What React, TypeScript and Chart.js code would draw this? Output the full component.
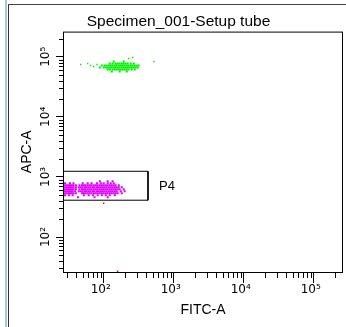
import React, { useEffect, useRef } from 'react';
import { Chart, registerables } from 'chart.js';

Chart.register(...registerables);

const FONT = "'Liberation Sans', Arial, sans-serif";
const TICK_FONT = "'DejaVu Sans', sans-serif";

const chartTitle = 'Specimen_001-Setup tube';
const xAxisTitle = 'FITC-A';
const yAxisTitle = 'APC-A';

const axisMin = 26.2;
const axisMax = 262144;
const decadeTicks = [100, 1000, 10000, 100000];
const decadeLabels = ['10²', '10³', '10⁴', '10⁵'];
const minorMultipliers = [2, 3, 4, 5, 6, 7, 8, 9];
const minorDecades = [10, 100, 1000, 10000, 100000];

const gateName = 'P4';
const gateFitc = [axisMin, 429];
const gateApc = [410, 1242];

// APC-bright population (green): FITC values per APC level
const greenApcLevels = [83200, 77100, 71400, 66100, 61300, 56800];
const greenFitcRows = [
  [139, 193],
  [122, 134, 148, 158, 169, 181, 193, 206, 220, 243, 268],
  [94, 103, 110, 118, 126, 134, 144, 153, 164, 175, 187, 199, 213, 227, 243, 259, 277, 296, 316],
  [88, 100, 107, 114, 122, 130, 139, 148, 158, 169, 181, 193, 206, 220, 235, 251, 268, 286, 306],
  [114, 122, 134, 144, 153, 164, 175, 187, 199, 213, 227, 251, 277],
  [130, 169, 213],
];
const greenOutlierFitc = [47, 59, 65, 72, 80, 227, 259, 523];
const greenOutlierApc = [74200, 77100, 71400, 68700, 74200, 93300, 97000, 83200];

// APC-dim population (magenta, gate P4): FITC values per APC level
const magentaApcLevels = [848, 785, 728, 674, 625, 579, 536, 497, 460];
const magentaFitcRows = [
  [88, 114, 134],
  [28, 33, 37, 50, 59, 67, 80, 91, 100, 114, 126, 139],
  [27, 29, 31, 33, 35, 37, 40, 45, 49, 52, 55, 59, 63, 67, 72, 77, 82, 88, 94, 100, 107, 114, 122, 130, 139, 148, 164],
  [27, 29, 31, 33, 35, 37, 40, 44, 47, 50, 54, 57, 61, 65, 70, 74, 80, 85, 91, 97, 103, 110, 118, 126, 134, 144, 153, 164, 181],
  [27, 29, 31, 33, 35, 37, 40, 45, 49, 52, 55, 59, 63, 67, 72, 77, 82, 88, 94, 100, 107, 114, 122, 130, 139, 148, 158, 169, 193],
  [28, 30, 32, 34, 36, 39, 44, 47, 50, 54, 57, 61, 65, 70, 74, 80, 85, 91, 97, 103, 110, 118, 126, 134, 144, 153, 175, 199],
  [27, 29, 31, 33, 35, 37, 40, 49, 52, 55, 59, 63, 67, 72, 77, 82, 88, 94, 100, 107, 114, 122, 130, 139, 148, 158, 181],
  [28, 32, 36, 52, 61, 70, 82, 94, 107, 122, 144],
  [43, 74, 114],
];

// Ungated events (red)
const redFitc = [100, 158];
const redApc = [366, 27];

const rowsToPoints = (levels: number[], rows: number[][]) =>
  rows.flatMap((row, i) => row.map((x) => ({ x, y: levels[i] })));
const pairsToPoints = (xs: number[], ys: number[]) => xs.map((x, i) => ({ x, y: ys[i] }));

const axisDecor = {
  id: 'axisDecor',
  afterDraw(chart: any) {
    const { ctx, chartArea: a } = chart;
    const xs = chart.scales.x;
    const ys = chart.scales.y;
    ctx.save();
    ctx.strokeStyle = '#000';
    ctx.lineWidth = 1;
    ctx.strokeRect(a.left + 0.5, a.top + 0.5, a.right - a.left - 1, a.bottom - a.top);
    ctx.beginPath();
    for (const d of minorDecades) {
      for (const m of minorMultipliers) {
        const v = d * m;
        if (v <= axisMin || v >= axisMax) continue;
        const px = Math.round(xs.getPixelForValue(v)) + 0.5;
        ctx.moveTo(px, a.bottom);
        ctx.lineTo(px, a.bottom + 6);
        const py = Math.round(ys.getPixelForValue(v)) + 0.5;
        ctx.moveTo(a.left - 4, py);
        ctx.lineTo(a.left, py);
      }
    }
    ctx.stroke();
    // gate name
    const gx = xs.getPixelForValue(gateFitc[1]) + 11;
    const gy = (ys.getPixelForValue(gateApc[0]) + ys.getPixelForValue(gateApc[1])) / 2 + 1;
    ctx.fillStyle = '#000';
    ctx.font = `13px ${FONT}`;
    ctx.textAlign = 'left';
    ctx.textBaseline = 'middle';
    ctx.fillText(gateName, gx, gy);
    ctx.restore();
  },
};

const labelFor = (v: number) => {
  const i = decadeTicks.indexOf(v);
  return i >= 0 ? decadeLabels[i] : '';
};

export default function App() {
  const ref = useRef<HTMLCanvasElement>(null);
  useEffect(() => {
    const pointStyle = { pointStyle: 'rect', pointRadius: 1.45, pointBorderWidth: 0, pointHoverRadius: 0 };
    const chart = new Chart(ref.current as HTMLCanvasElement, {
      type: 'scatter',
      data: {
        datasets: [
          { label: 'P4', data: rowsToPoints(magentaApcLevels, magentaFitcRows), pointBackgroundColor: '#dd00ff', ...pointStyle } as any,
          { label: 'APC+', data: rowsToPoints(greenApcLevels, greenFitcRows), pointBackgroundColor: '#00ee00', ...pointStyle } as any,
          { label: 'APC+ sparse', data: pairsToPoints(greenOutlierFitc, greenOutlierApc), pointBackgroundColor: '#00ee00', ...pointStyle, pointRadius: 1 } as any,
          { label: 'other', data: pairsToPoints(redFitc, redApc), pointBackgroundColor: '#ff0000', ...pointStyle, pointRadius: 1 } as any,
          {
            label: 'gate',
            data: [
              { x: gateFitc[0], y: gateApc[1] },
              { x: gateFitc[1], y: gateApc[1] },
              { x: gateFitc[1], y: gateApc[0] },
              { x: gateFitc[0], y: gateApc[0] },
              { x: gateFitc[0], y: gateApc[1] },
            ],
            showLine: true,
            borderColor: '#000',
            borderWidth: 1,
            pointRadius: 0,
            fill: false,
          } as any,
        ],
      },
      options: {
        responsive: false,
        animation: false,
        devicePixelRatio: 1,
        events: [],
        layout: { padding: { left: 14, right: 3, top: 0, bottom: 0 } },
        plugins: {
          legend: { display: false },
          tooltip: { enabled: false },
          title: {
            display: true,
            text: chartTitle,
            color: '#000',
            font: { size: 15.5, weight: 'normal', family: FONT },
            padding: { top: 12, bottom: 1 },
          },
        },
        scales: {
          x: {
            type: 'logarithmic',
            position: 'bottom',
            min: axisMin,
            max: axisMax,
            afterBuildTicks: (s: any) => {
              s.ticks = decadeTicks.map((v) => ({ value: v }));
            },
            afterFit: (s: any) => {
              s.height = 55;
            },
            ticks: {
              autoSkip: false,
              minRotation: 0,
              maxRotation: 0,
              callback: (v: any) => labelFor(Number(v)),
              color: '#000',
              font: { size: 12, family: TICK_FONT },
              padding: 0,
              labelOffset: -3,
            },
            grid: { drawOnChartArea: false, drawTicks: true, tickLength: 11, color: '#000', tickColor: '#000' },
            border: { display: false },
            title: {
              display: true,
              text: xAxisTitle,
              color: '#000',
              font: { size: 14, family: FONT },
              padding: { top: 0, bottom: 8 },
            },
          } as any,
          y: {
            type: 'logarithmic',
            position: 'left',
            min: axisMin,
            max: axisMax,
            afterBuildTicks: (s: any) => {
              s.ticks = decadeTicks.map((v) => ({ value: v }));
            },
            afterFit: (s: any) => {
              s.width = 49;
            },
            ticks: {
              autoSkip: false,
              minRotation: 90,
              maxRotation: 90,
              crossAlign: 'center',
              callback: (v: any) => labelFor(Number(v)),
              color: '#000',
              font: { size: 12, family: TICK_FONT },
              padding: 0,
            },
            grid: { drawOnChartArea: false, drawTicks: true, tickLength: 7, color: '#000', tickColor: '#000' },
            border: { display: false },
            title: {
              display: true,
              text: yAxisTitle,
              color: '#000',
              font: { size: 14, family: FONT },
              padding: { top: 5, bottom: 0 },
            },
          } as any,
        },
      },
      plugins: [axisDecor],
    });
    return () => chart.destroy();
  }, []);

  return (
    <div style={{ position: 'fixed', left: 0, top: 0, width: 346, height: 327, background: '#fff', overflow: 'hidden' }}>
      <div style={{ position: 'absolute', left: 5, top: 0, width: 2, height: 327, background: '#a9c3df' }} />
      <div style={{ position: 'absolute', left: 8, top: 4, width: 1, height: 323, background: '#333' }} />
      <div style={{ position: 'absolute', left: 8, top: 4, width: 338, height: 1, background: '#444' }} />
      <canvas ref={ref} width={346} height={327} style={{ position: 'absolute', left: 0, top: 0 }} />
    </div>
  );
}
